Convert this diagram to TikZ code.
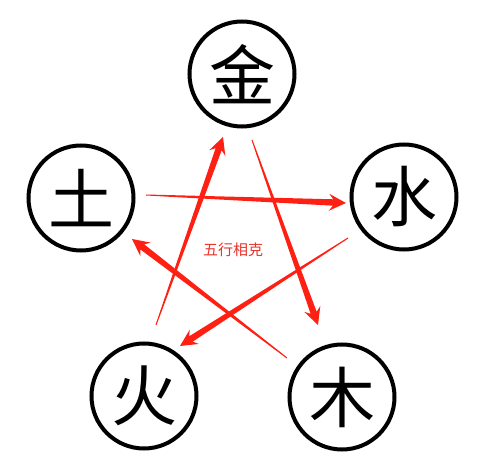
\documentclass[tikz,border=0pt]{standalone}
\usepackage{fontspec}
\newfontfamily\cjk{Noto Sans CJK SC}
\usetikzlibrary{calc}
\definecolor{arrowred}{RGB}{255,32,20}
\definecolor{textred}{RGB}{232,52,42}
\newcommand\taperarrow[3]{%
  \coordinate (#3n) at ($(#2)!13pt!(#1)$);
  \coordinate (#3h) at ($(#2)!17pt!(#1)$);
  \fill[arrowred] ($(#1)!0.5pt!90:(#2)$) -- ($(#3n)!3.2pt!-90:(#1)$) -- ($(#3h)!8.5pt!-90:(#1)$) -- (#2)
    -- ($(#3h)!8.5pt!90:(#1)$) -- ($(#3n)!3.2pt!90:(#1)$) -- ($(#1)!0.5pt!-90:(#2)$) -- cycle;}
\begin{document}
\begin{tikzpicture}[x=1pt,y=-1pt,
  element/.style={circle,draw=black,line width=4pt,minimum size=105pt,inner sep=0pt,font=\cjk\fontsize{66}{66}\selectfont},
  label/.style={text=textred,font=\cjk\fontsize{15}{15}\selectfont}]
\useasboundingbox (0,0) rectangle (496,473);
\fill[white] (0,0) rectangle (496,473);
\node[element] (jin) at (242,74) {金};
\node[element] (shui) at (404,197) {水};
\node[element] (tu) at (81,198) {土};
\node[element] (huo) at (144,396) {火};
\node[element] (mu) at (342,397) {木};
\node[label] (title) at (233,250) {五行相克};
% arrow end points
\coordinate (a1) at (252,140); \coordinate (b1) at (318,325);
\coordinate (a2) at (287,358); \coordinate (b2) at (132,239);
\coordinate (a3) at (146,195); \coordinate (b3) at (346,203);
\coordinate (a4) at (348,238); \coordinate (b4) at (180,346);
\coordinate (a5) at (156,325); \coordinate (b5) at (223,137);
\taperarrow{a1}{b1}{p1}
\taperarrow{a2}{b2}{p2}
\taperarrow{a3}{b3}{p3}
\taperarrow{a4}{b4}{p4}
\taperarrow{a5}{b5}{p5}
\end{tikzpicture}
\end{document}
